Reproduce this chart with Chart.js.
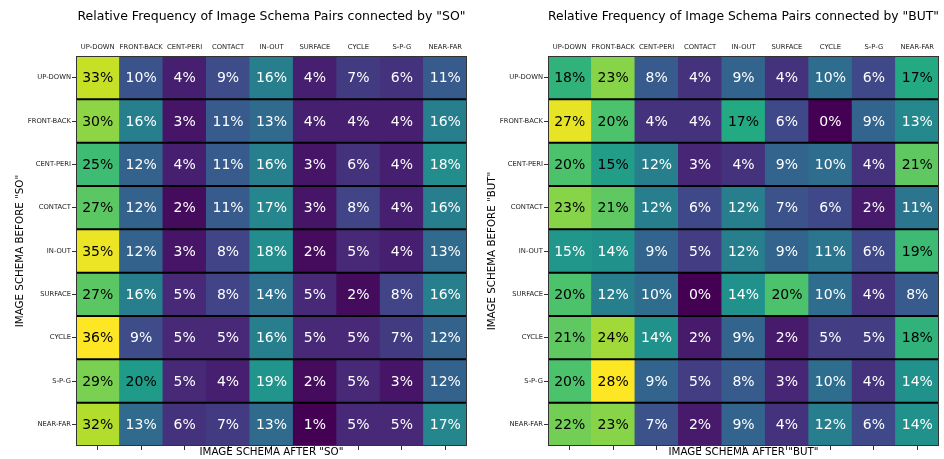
<!DOCTYPE html>
<html>
<head>
<meta charset="utf-8">
<script src="https://cdn.jsdelivr.net/npm/chart.js@4.4.1/dist/chart.umd.min.js"></script>
<style>
  body { margin: 0; background: #fff; }
  .wrap { position: absolute; top: 0; width: 472px; height: 459px; }
</style>
</head>
<body>
<div class="wrap" style="left:0"><canvas id="soChart" width="472" height="459"></canvas></div>
<div class="wrap" style="left:472px"><canvas id="butChart" width="472" height="459"></canvas></div>
<script>
// schema names, used for both axes
const schemas = ["UP-DOWN", "FRONT-BACK", "CENT-PERI", "CONTACT", "IN-OUT", "SURFACE", "CYCLE", "S-P-G", "NEAR-FAR"];

// rows = schema before the conjunction, columns = schema after (percent)
const soValues = [
  [33, 10, 4, 9, 16, 4, 7, 6, 11],
  [30, 16, 3, 11, 13, 4, 4, 4, 16],
  [25, 12, 4, 11, 16, 3, 6, 4, 18],
  [27, 12, 2, 11, 17, 3, 8, 4, 16],
  [35, 12, 3, 8, 18, 2, 5, 4, 13],
  [27, 16, 5, 8, 14, 5, 2, 8, 16],
  [36, 9, 5, 5, 16, 5, 5, 7, 12],
  [29, 20, 5, 4, 19, 2, 5, 3, 12],
  [32, 13, 6, 7, 13, 1, 5, 5, 17]
];
const butValues = [
  [18, 23, 8, 4, 9, 4, 10, 6, 17],
  [27, 20, 4, 4, 17, 6, 0, 9, 13],
  [20, 15.4, 12, 3, 4, 9, 10, 4, 21],
  [23, 21, 12, 6, 12, 7, 6, 2, 11],
  [14.6, 14, 9, 5, 12, 9, 11, 6, 19],
  [20, 12, 10, 0, 14, 20, 10, 4, 8],
  [21, 24, 14, 2, 9, 2, 5, 5, 18],
  [20, 28, 9, 5, 8, 3, 10, 4, 14],
  [22, 23, 7, 2, 9, 4, 12, 6, 14]
];

const viridisStops = ["#440154", "#482475", "#414487", "#355f8d", "#2a788e", "#21918c",
                      "#22a884", "#44bf70", "#7ad151", "#bddf26", "#fde725"];

function hexToRgb(h) {
  return [parseInt(h.slice(1, 3), 16), parseInt(h.slice(3, 5), 16), parseInt(h.slice(5, 7), 16)];
}

function viridis(t) {
  t = Math.max(0, Math.min(1, t));
  let pos = t * (viridisStops.length - 1);
  let i = Math.min(Math.floor(pos), viridisStops.length - 2);
  let f = pos - i;
  let a = hexToRgb(viridisStops[i]);
  let b = hexToRgb(viridisStops[i + 1]);
  let c = a.map((v, k) => Math.round(v + (b[k] - v) * f));
  return "rgb(" + c.join(",") + ")";
}

// cell labels + row separators + frame
const cellPlugin = {
  id: "cells",
  afterDatasetsDraw(chart) {
    const ctx = chart.ctx;
    const xs = chart.scales.x;
    const ys = chart.scales.y;
    const vals = chart.options.plugins.cells.values;
    const lo = Math.min(...vals.flat());
    const hi = Math.max(...vals.flat());
    const area = chart.chartArea;

    ctx.save();
    ctx.font = "14px 'DejaVu Sans'";
    ctx.textAlign = "center";
    ctx.textBaseline = "middle";
    vals.forEach((row, i) => {
      row.forEach((v, j) => {
        let t = (v - lo) / (hi - lo);
        ctx.fillStyle = t > 0.53 ? "#000" : "#fff";
        ctx.fillText(Math.round(v) + "%", xs.getPixelForValue(j), ys.getPixelForValue(i) + 1);
      });
    });

    ctx.strokeStyle = "#000";
    ctx.lineWidth = 2;
    for (let i = 0; i < vals.length - 1; i++) {
      let y = ys.getPixelForValue(i + 0.5);
      ctx.beginPath();
      ctx.moveTo(area.left, y);
      ctx.lineTo(area.right, y);
      ctx.stroke();
    }
    ctx.strokeStyle = "#333";
    ctx.lineWidth = 1;
    ctx.strokeRect(area.left + 0.5, area.top + 0.5, area.right - area.left - 1, area.bottom - area.top - 1);
    ctx.restore();
  }
};

function makeChart(canvasId, values, conj) {
  const lo = Math.min(...values.flat());
  const hi = Math.max(...values.flat());
  const datasets = values.map((row, i) => ({
    label: schemas[i],
    data: row.map(() => [i - 0.5, i + 0.5]),
    backgroundColor: row.map(v => viridis((v - lo) / (hi - lo))),
    borderWidth: 0,
    xAxisID: "x",
    yAxisID: "y"
  }));

  const tickFont = { family: "DejaVu Sans", size: 6.8 };
  const titleFont = { family: "DejaVu Sans", size: 10.3 };

  return new Chart(document.getElementById(canvasId), {
    type: "bar",
    data: { labels: schemas, datasets: datasets },
    options: {
      responsive: false,
      animation: false,
      events: [],
      layout: { padding: { left: 0, right: 5, top: 0, bottom: 0 } },
      datasets: { bar: { grouped: false, barPercentage: 1, categoryPercentage: 1 } },
      plugins: {
        legend: { display: false },
        tooltip: { enabled: false },
        cells: { values: values }
      },
      scales: {
        x: {
          type: "category",
          position: "top",
          offset: true,
          grid: { display: false, drawTicks: false },
          border: { display: false },
          ticks: { font: tickFont, color: "#222", maxRotation: 0, autoSkip: false, padding: 5 },
          title: {
            display: true,
            text: "Relative Frequency of Image Schema Pairs connected by \"" + conj + "\"",
            font: { family: "DejaVu Sans", size: 12.5 },
            color: "#000",
            padding: { top: 9, bottom: 0 }
          },
          afterFit(scale) { scale.height = 56; }
        },
        x2: {
          type: "category",
          position: "bottom",
          offset: true,
          grid: { offset: false, drawOnChartArea: false, drawTicks: true, tickLength: 4, color: "#333" },
          border: { display: false },
          ticks: { display: false },
          title: {
            display: true,
            text: "IMAGE SCHEMA AFTER \"" + conj + "\"",
            font: titleFont,
            color: "#000",
            padding: { top: 0, bottom: 0 }
          },
          afterFit(scale) { scale.height = 13; }
        },
        y: {
          type: "linear",
          reverse: true,
          min: -0.5,
          max: 8.5,
          afterBuildTicks(axis) { axis.ticks = schemas.map((s, i) => ({ value: i })); },
          grid: { drawOnChartArea: false, drawTicks: true, tickLength: 4, color: "#333" },
          border: { display: false },
          ticks: {
            font: tickFont,
            color: "#222",
            padding: 1,
            callback: v => schemas[v]
          },
          title: {
            display: true,
            text: "IMAGE SCHEMA BEFORE \"" + conj + "\"",
            font: titleFont,
            color: "#000",
            padding: { top: 14, bottom: 0 }
          },
          afterFit(scale) { scale.width = 76; }
        }
      }
    },
    plugins: [cellPlugin]
  });
}

makeChart("soChart", soValues, "SO");
makeChart("butChart", butValues, "BUT");
</script>
</body>
</html>
